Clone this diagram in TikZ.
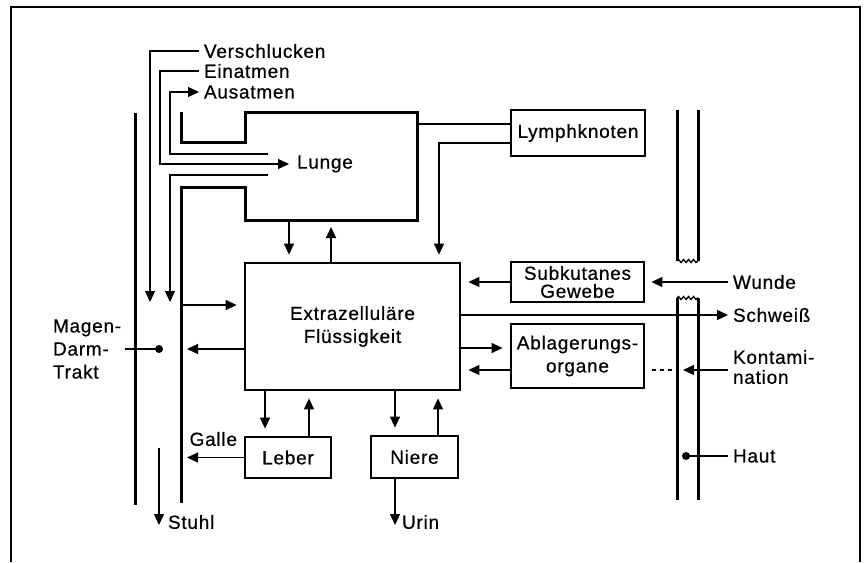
\documentclass[tikz,border=0pt]{standalone}
\usepackage{fontspec}
\setmainfont{Liberation Sans}[LetterSpace=4,FakeBold=0.6]
\usetikzlibrary{arrows.meta,decorations.pathmorphing}
\begin{document}
\begin{tikzpicture}[x=1pt,y=-1pt,
  font=\fontsize{19}{23}\selectfont,
  thinline/.style={line width=1.25pt},
  wall/.style={line width=3pt},
  box/.style={draw,line width=2.8pt,inner sep=0pt,align=center},
  lbl/.style={inner sep=0pt,outer sep=5pt,anchor=west,align=left},
  arr/.style={line width=1.25pt,-{Triangle[length=11pt,width=10pt]}},
  gap/.style={shorten >=7pt},
  wave/.style={line width=1.3pt,decorate,decoration={snake,segment length=5pt,amplitude=1.5pt}}]
\useasboundingbox (0,0) rectangle (864,562);

% outer frame (open at the bottom)
\draw[line width=1.7pt] (11,562) -- (11,7) -- (860,7) -- (860,562);

% ---------- boxes ----------
\node[box,minimum width=215pt,minimum height=127pt] (ecf) at (352.5,326.5) {Extrazelluläre\\Flüssigkeit};
\node[box,minimum width=134pt,minimum height=46pt] (lymph) at (578,133) {Lymphknoten};
\node[box,minimum width=133pt,minimum height=40pt,font=\fontsize{19}{18}\selectfont] (subk) at (577.5,282) {Subkutanes\\Gewebe};
\node[box,minimum width=133pt,minimum height=64pt] (ablag) at (577.5,356) {Ablagerungs-\\organe};
\node[box,minimum width=86pt,minimum height=41pt] (leber) at (288,457.5) {Leber};
\node[box,minimum width=87pt,minimum height=42pt] (niere) at (414.5,457) {Niere};

% ---------- labels ----------
\node[lbl] (verschl) at (199,51) {Verschlucken};
\node[lbl] (einat) at (199,71) {Einatmen};
\node[lbl] (ausat) at (199,92) {Ausatmen};
\node[lbl] (lunge) at (292,164) {Lunge};
\node[lbl] (wunde) at (728,282) {Wunde};
\node[lbl] (schweiss) at (728,315) {Schweiß};
\node[lbl,font=\fontsize{19}{20}\selectfont] (kontam) at (728,367) {Kontami-\\nation};
\node[lbl] (haut) at (728,456) {Haut};
\node[lbl,anchor=east] (galle) at (242,439) {Galle};
\node[lbl] (stuhl) at (163,522) {Stuhl};
\node[lbl] (urin) at (397,522) {Urin};
\node[lbl,outer sep=0pt] (magen) at (53,349) {Magen-\\Darm-\\Trakt};

% ---------- lung outline and gut walls ----------
\draw[wall] (181,112) -- (181,142) -- (245,142) -- (245,112) -- (417,112)
  -- (417,220) -- (245,220) -- (245,187) -- (181,187) -- (181,503);
\draw[wall] (135,113) -- (135,505);

% ---------- skin ----------
\draw[wall] (677,110) -- (677,261);
\draw[wall] (698,110) -- (698,261);
\draw[wave] (677,261) -- (698,261);
\draw[wave] (677,298) -- (698,298);
\draw[wall] (677,298) -- (677,500);
\draw[wall] (698,298) -- (698,500);

% ---------- route points ----------
\coordinate (vs) at (150,302);
\coordinate (ein) at (160,164);
\coordinate (aus1) at (268,154);
\coordinate (aus2) at (170,154);
\coordinate (muc) at (268,175);
\coordinate (mucd) at (170,302);
\coordinate (lungR) at (417,124);
\coordinate (ly2) at (439,143);
\coordinate (ld) at (289,220);
\coordinate (lu) at (331,220);
\coordinate (g2e) at (181,305);
\coordinate (e2g) at (181,349);
\coordinate (gw) at (181,0);
\coordinate (xl1) at (265,0);
\coordinate (xl2) at (309,0);
\coordinate (xn1) at (395,0);
\coordinate (xn2) at (438,0);
\coordinate (urinend) at (395,525);
\coordinate (st1) at (159,448);
\coordinate (st2) at (159,525);
\coordinate (gutdot) at (159,349);
\coordinate (sw) at (0,315);
\coordinate (ea1) at (0,348);
\coordinate (ea2) at (0,370);
\coordinate (ko) at (0,370);
\coordinate (kotip) at (683,370);
\coordinate (kd1) at (652,370);
\coordinate (kd2) at (677,370);
\coordinate (hautdot) at (686,456);

% ---------- intake and lung pathways ----------
\draw[arr] (verschl.west) -| (vs);
\draw[arr,shorten >=3pt] (einat.west) -| (ein) -- (ein -| lunge.west);
\draw[arr] (aus1) -- (aus2) |- (ausat.west);
\draw[arr] (muc) -| (mucd);

% lung <-> extracellular fluid
\draw[arr,gap] (ld) -- (ld |- ecf.north);
\draw[arr,gap] (lu |- ecf.north) -- (lu);

% lymph nodes
\draw[thinline] (lungR) -- (lungR -| lymph.west);
\draw[arr,gap] (ly2 -| lymph.west) -| (ly2 |- ecf.north);

% gut <-> extracellular fluid
\draw[arr,gap] (g2e) -- (g2e -| ecf.west);
\draw[arr,shorten >=6pt] (e2g -| ecf.west) -- (e2g);
\fill (gutdot) circle (4pt);
\draw[thinline] (magen.east |- gutdot) ++(4,0) -- (gutdot);
\draw[arr] (st1) -- (st2);

% liver and kidney
\draw[arr,gap] (ecf.south -| xl1) -- (leber.north -| xl1);
\draw[arr,gap] (leber.north -| xl2) -- (ecf.south -| xl2);
\draw[arr,shorten >=6pt] (leber.west) -- (leber.west -| gw);
\draw[arr,gap] (ecf.south -| xn1) -- (niere.north -| xn1);
\draw[arr,gap] (niere.north -| xn2) -- (ecf.south -| xn2);
\draw[arr] (niere.south -| urinend) -- (urinend);

% skin side
\draw[arr,gap] (subk.west) -- (subk.west -| ecf.east);
\draw[arr,shorten >=6pt] (wunde.west) -- (wunde.west -| subk.east);
\draw[arr] (ecf.east |- sw) -- (schweiss.west);
\draw[arr,gap] (ecf.east |- ea1) -- (ablag.west |- ea1);
\draw[arr,gap] (ablag.west |- ea2) -- (ecf.east |- ea2);
\draw[arr] (kontam.west |- ko) -- (kotip);
\draw[thinline,dash pattern=on 4pt off 4pt] (kd1) -- (kd2);
\fill (hautdot) circle (4pt);
\draw[thinline] (haut.west) -- (hautdot);
\end{tikzpicture}
\end{document}
